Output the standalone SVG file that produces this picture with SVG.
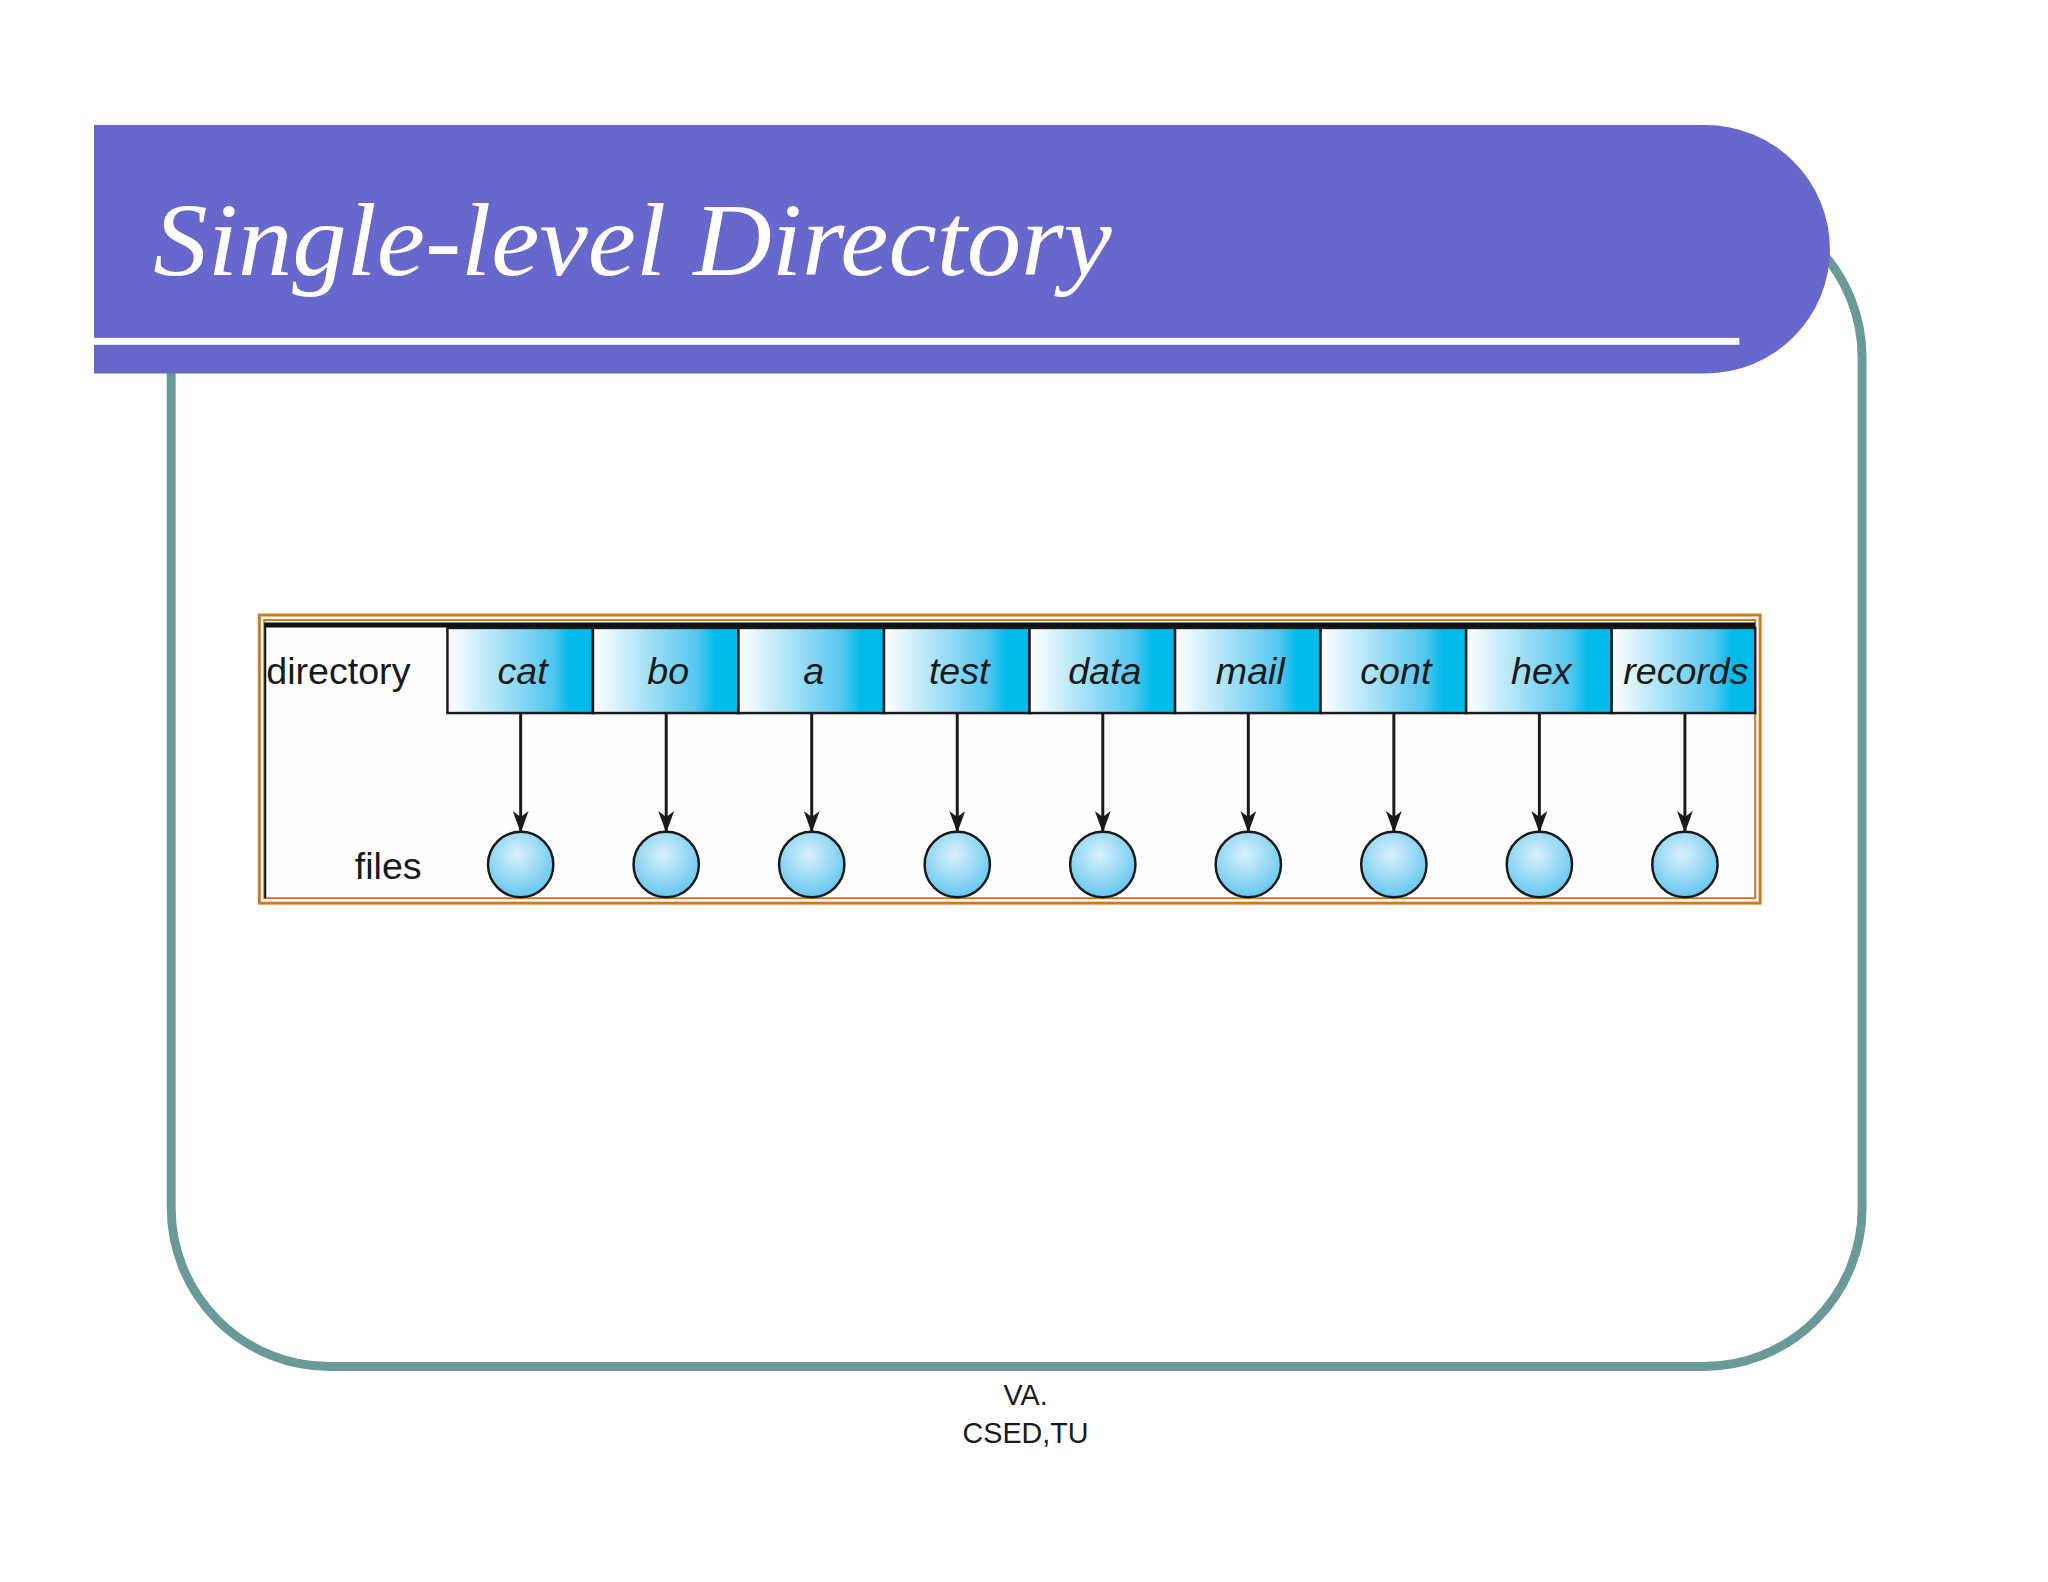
<svg xmlns="http://www.w3.org/2000/svg" width="2048" height="1582" viewBox="0 0 2048 1582">
<defs>
<linearGradient id="cg" x1="0" y1="0" x2="1" y2="0">
<stop offset="0" stop-color="#ffffff"/><stop offset="0.72" stop-color="#52c6ef"/><stop offset="0.84" stop-color="#00bbea"/><stop offset="1" stop-color="#00bbea"/>
</linearGradient>
<radialGradient id="fg" cx="0.45" cy="0.35" r="0.7">
<stop offset="0" stop-color="#d8f1fc"/><stop offset="1" stop-color="#5ec4ee"/>
</radialGradient>
<marker id="ah" viewBox="0 0 22 16" refX="22" refY="8" markerWidth="22" markerHeight="16" orient="auto" markerUnits="userSpaceOnUse">
<path d="M0,0 L22,8 L0,16 L6,8 z" fill="#1a1a1a"/>
</marker>
<style>
.cell{fill:url(#cg);stroke:#1a1a1a;stroke-width:2.5}
.lbl{font-family:"Liberation Sans",Arial,sans-serif;font-style:italic;font-size:38px;fill:#1a1a1a;text-anchor:middle}
.file{fill:url(#fg);stroke:#1a1a1a;stroke-width:2.5}
.conn line{stroke:#1a1a1a;stroke-width:3;marker-end:url(#ah)}
.plain{font-family:"Liberation Sans",Arial,sans-serif;fill:#1a1a1a}
</style>
</defs>
<rect width="2048" height="1582" fill="#ffffff"/>
<g transform="translate(92,125) scale(0.99) translate(-92,-125)">
<rect x="172" y="200" width="1708" height="1179" rx="160" fill="none" stroke="#6a9a98" stroke-width="9"/>
<path d="M94,125 H1722 A125,125 0 0 1 1722,376 H94 Z" fill="#6867cb"/>
<rect x="94" y="340" width="1662" height="7" fill="#ffffff"/>
<text x="154" y="277" font-family="Liberation Serif,serif" font-style="italic" font-size="104" fill="#ffffff" textLength="968" lengthAdjust="spacingAndGlyphs">Single-level Directory</text>
<g id="frame">
<rect x="261" y="620" width="1516" height="291" fill="#fdfefd" stroke="#d07a20" stroke-width="3"/>
<rect x="266" y="625" width="1506" height="281" fill="none" stroke="#d07a20" stroke-width="2"/>
<line x1="266" y1="630" x2="1772" y2="630" stroke="#111" stroke-width="5"/>
<line x1="267" y1="630" x2="267" y2="906" stroke="#111" stroke-width="2"/>
<text class="plain" x="268" y="690" font-size="38">directory</text>
<text class="plain" x="425" y="887" font-size="38" text-anchor="end">files</text>
</g>
<g id="directory">
<rect class="cell" x="451" y="633" width="147" height="86"/><text class="lbl" x="527" y="690">cat</text>
<rect class="cell" x="598" y="633" width="147" height="86"/><text class="lbl" x="674" y="690">bo</text>
<rect class="cell" x="745" y="633" width="147" height="86"/><text class="lbl" x="821" y="690">a</text>
<rect class="cell" x="892" y="633" width="147" height="86"/><text class="lbl" x="968" y="690">test</text>
<rect class="cell" x="1039" y="633" width="147" height="86"/><text class="lbl" x="1115" y="690">data</text>
<rect class="cell" x="1186" y="633" width="147" height="86"/><text class="lbl" x="1262" y="690">mail</text>
<rect class="cell" x="1333" y="633" width="147" height="86"/><text class="lbl" x="1409" y="690">cont</text>
<rect class="cell" x="1480" y="633" width="147" height="86"/><text class="lbl" x="1556" y="690">hex</text>
<rect class="cell" x="1627" y="633" width="145" height="86"/><text class="lbl" x="1702" y="690">records</text>
</g>
<g id="files">
<circle class="file" cx="525" cy="872" r="33"/>
<circle class="file" cx="672" cy="872" r="33"/>
<circle class="file" cx="819" cy="872" r="33"/>
<circle class="file" cx="966" cy="872" r="33"/>
<circle class="file" cx="1113" cy="872" r="33"/>
<circle class="file" cx="1260" cy="872" r="33"/>
<circle class="file" cx="1407" cy="872" r="33"/>
<circle class="file" cx="1554" cy="872" r="33"/>
<circle class="file" cx="1701" cy="872" r="33"/>
</g>
<g class="conn" id="connectors">
<line x1="525" y1="719" x2="525" y2="840"/>
<line x1="672" y1="719" x2="672" y2="840"/>
<line x1="819" y1="719" x2="819" y2="840"/>
<line x1="966" y1="719" x2="966" y2="840"/>
<line x1="1113" y1="719" x2="1113" y2="840"/>
<line x1="1260" y1="719" x2="1260" y2="840"/>
<line x1="1407" y1="719" x2="1407" y2="840"/>
<line x1="1554" y1="719" x2="1554" y2="840"/>
<line x1="1701" y1="719" x2="1701" y2="840"/>
</g>
<text class="plain" x="1035" y="1418" font-size="29" text-anchor="middle">VA.</text>
<text class="plain" x="1035" y="1456" font-size="29" text-anchor="middle">CSED,TU</text>
</g>
</svg>
